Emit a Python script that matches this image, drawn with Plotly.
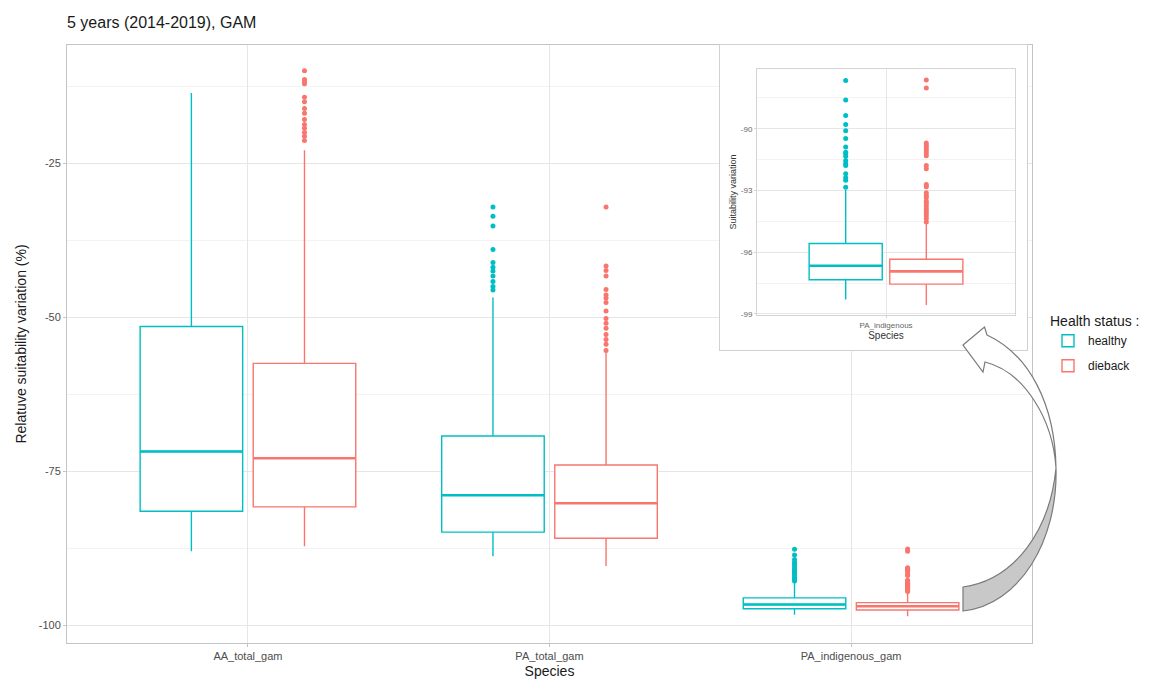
import plotly.graph_objects as go

# ---------------- data ----------------
categories = ["AA_total_gam", "PA_total_gam", "PA_indigenous_gam"]
groups = ["healthy", "dieback"]

healthy_lo = [-88.0, -88.8, -98.3]
healthy_q1 = [-81.5, -84.9, -97.34]
healthy_med = [-71.8, -78.9, -96.66]
healthy_q3 = [-51.5, -69.3, -95.58]
healthy_hi = [-13.6, -46.8, -92.95]

dieback_lo = [-87.2, -90.4, -98.56]
dieback_q1 = [-80.8, -85.9, -97.55]
dieback_med = [-72.9, -80.2, -96.93]
dieback_q3 = [-57.5, -74.0, -96.34]
dieback_hi = [-22.9, -55.8, -94.64]

healthy_out = [
    [],
    [-32.1, -33.6, -35.2, -39.0, -41.1, -41.9, -42.5, -43.3, -44.2, -45.0, -45.6],
    [-87.66, -88.6, -89.36, -89.8, -90.1, -90.48, -90.89, -91.15, -91.22, -91.34,
     -91.55, -91.69, -91.79, -92.19, -92.38, -92.5, -92.84],
]
dieback_out = [
    [-10.0, -11.4, -11.8, -12.1, -14.3, -15.0, -16.1, -16.9, -17.9, -18.7, -19.3,
     -20.0, -20.6, -21.3],
    [-32.1, -41.7, -42.4, -43.3, -45.5, -46.4, -46.9, -47.6, -49.0, -50.2, -51.0,
     -51.8, -52.8, -53.6, -54.4, -55.4],
    [-87.63, -88.02, -90.69, -90.82, -90.93, -91.05, -91.18, -91.31, -91.79, -91.95,
     -92.71, -92.82, -93.11, -93.24, -93.35, -93.52, -93.63, -93.76, -93.89, -94.0,
     -94.11, -94.24, -94.37, -94.53],
]

main_yticks = [-100, -75, -50, -25]
main_ytick_labels = ["-100", "-75", "-50", "-25"]
inset_category = "PA_indigenous"
inset_yticks = [-99, -96, -93, -90]
inset_ytick_labels = ["-99", "-96", "-93", "-90"]

# ---------------- styling ----------------
COL = {"healthy": "#00BFC4", "dieback": "#F8766D"}
DODGE = 0.1875
BOXW = 0.34
FONT = "Liberation Sans, Arial, sans-serif"

stats = {
    "healthy": dict(lo=healthy_lo, q1=healthy_q1, med=healthy_med, q3=healthy_q3,
                    hi=healthy_hi, out=healthy_out, off=-DODGE),
    "dieback": dict(lo=dieback_lo, q1=dieback_q1, med=dieback_med, q3=dieback_q3,
                    hi=dieback_hi, out=dieback_out, off=DODGE),
}

fig = go.Figure()


def add_boxes(idx, xbase, xa, ya, legend):
    for g in groups:
        s = stats[g]
        xs = [xb + s["off"] for xb in xbase]
        fig.add_trace(go.Box(
            x=xs, q1=[s["q1"][i] for i in idx], median=[s["med"][i] for i in idx],
            q3=[s["q3"][i] for i in idx], lowerfence=[s["lo"][i] for i in idx],
            upperfence=[s["hi"][i] for i in idx], width=BOXW, whiskerwidth=0,
            fillcolor="white", line=dict(color=COL[g], width=1.4), boxpoints=False,
            name=g, legendgroup=g, showlegend=legend, xaxis=xa, yaxis=ya,
            hoverinfo="skip"))
        mx, my = [], []
        for k, i in enumerate(idx):
            mx += [xs[k] - BOXW / 2, xs[k] + BOXW / 2, None]
            my += [s["med"][i], s["med"][i], None]
        fig.add_trace(go.Scatter(x=mx, y=my, mode="lines",
                                 line=dict(color=COL[g], width=2.6), legendgroup=g,
                                 showlegend=False, xaxis=xa, yaxis=ya, hoverinfo="skip"))
        ox, oy = [], []
        for k, i in enumerate(idx):
            ox += [xs[k]] * len(s["out"][i])
            oy += s["out"][i]
        fig.add_trace(go.Scatter(x=ox, y=oy, mode="markers",
                                 marker=dict(color=COL[g], size=5), legendgroup=g,
                                 showlegend=False, xaxis=xa, yaxis=ya, hoverinfo="skip"))


# main plot
add_boxes([0, 1, 2], [1, 2, 3], "x", "y", True)
# frame subplot for inset (white background box)
fig.add_trace(go.Scatter(x=[None], y=[None], xaxis="x2", yaxis="y2",
                         showlegend=False, hoverinfo="skip"))
# inset plot
add_boxes([2], [1], "x3", "y3", False)

# ---------------- layout ----------------
W, H = 1161, 684
L, R, T, B = 67, 129, 45, 41
PW, PH = W - L - R, H - T - B


def px(xp, yp):
    return (xp - L) / PW, (H - B - yp) / PH


grid = "#e6e6e6"
minor_grid = "#f3f3f3"
border = "#c4c4c4"

fig.update_layout(
    width=W, height=H,
    margin=dict(l=L, r=R, t=T, b=B, autoexpand=False),
    paper_bgcolor="white", plot_bgcolor="white",
    font=dict(family=FONT, color="#4d4d4d"),
    boxmode="overlay",
    title=dict(text="5 years (2014-2019), GAM", x=L / W, xanchor="left",
               y=1 - 22 / H, yanchor="middle", yref="container",
               font=dict(size=16, color="#1a1a1a")),
    legend=dict(title=dict(text="Health status :", font=dict(size=14, color="#1a1a1a")),
                x=px(1048, 0)[0], xanchor="left", y=px(0, 308)[1], yanchor="top",
                font=dict(size=12, color="#1a1a1a"), bgcolor="rgba(0,0,0,0)",
                tracegroupgap=6),
    xaxis=dict(range=[0.4, 3.6], tickvals=[1, 2, 3], ticktext=categories,
               showgrid=True, gridcolor=grid, zeroline=False, automargin=False,
               showline=True, mirror=True, linecolor=border,
               ticks="outside", ticklen=3, tickcolor=border,
               tickfont=dict(size=11, color="#4d4d4d"),
               title=dict(text="Species", font=dict(size=14, color="#1a1a1a"), standoff=4)),
    yaxis=dict(range=[-102.9, -5.8], tickvals=main_yticks, ticktext=main_ytick_labels,
               showgrid=True, gridcolor=grid, zeroline=False, automargin=False,
               minor=dict(tickvals=[-87.5, -62.5, -37.5, -12.5], showgrid=True,
                          gridcolor=minor_grid, ticks=""),
               showline=True, mirror=True, linecolor=border,
               ticks="outside", ticklen=3, tickcolor=border,
               tickfont=dict(size=11, color="#4d4d4d"),
               title=dict(text="Relatuve suitability variation (%)",
                          font=dict(size=14, color="#1a1a1a"), standoff=8)),
    xaxis2=dict(domain=[px(720, 0)[0], px(1027, 0)[0]], range=[0, 1], anchor="y2",
                showgrid=False, zeroline=False, showticklabels=False, ticks="",
                automargin=False,
                showline=True, mirror=True, linecolor="#d0d0d0", fixedrange=True),
    yaxis2=dict(domain=[px(0, 350)[1], 1.0], range=[0, 1], anchor="x2",
                showgrid=False, zeroline=False, showticklabels=False, ticks="",
                automargin=False,
                showline=True, mirror=True, linecolor="#d0d0d0", fixedrange=True),
    xaxis3=dict(domain=[px(757, 0)[0], px(1015, 0)[0]], range=[0.4, 1.6], anchor="y3",
                tickvals=[1], ticktext=[inset_category], automargin=False,
                showgrid=True, gridcolor=grid, zeroline=False,
                showline=True, mirror=True, linecolor="#d4d4d4",
                ticks="outside", ticklen=2, tickcolor="#d4d4d4",
                tickfont=dict(size=8, color="#666666"),
                title=dict(text="Species", font=dict(size=10, color="#333333"), standoff=2)),
    yaxis3=dict(domain=[px(0, 315)[1], px(0, 69)[1]], range=[-99.05, -87.1], anchor="x3",
                tickvals=inset_yticks, ticktext=inset_ytick_labels, automargin=False,
                showgrid=True, gridcolor=grid, zeroline=False,
                minor=dict(tickvals=[-97.5, -94.5, -91.5, -88.5], showgrid=True,
                           gridcolor=minor_grid, ticks=""),
                showline=True, mirror=True, linecolor="#d4d4d4",
                ticks="outside", ticklen=2, tickcolor="#d4d4d4",
                tickfont=dict(size=8, color="#666666"),
                title=dict(text="Suitability variation", font=dict(size=9, color="#333333"),
                           standoff=2)),
)


def P(xp, yp):
    a, b = px(xp, yp)
    return f"{a:.5f},{b:.5f}"


upper = (f"M {P(963,345)} L {P(984.5,327)} L {P(987,335)} "
         f"C {P(1030,355)} {P(1055,405)} {P(1056,468)} "
         f"C {P(1053,420)} {P(1025,372)} {P(985,362)} "
         f"L {P(983,372)} Z")
lower = (f"M {P(1056,468)} C {P(1058,540)} {P(1020,605)} {P(963,611)} "
         f"L {P(963,587)} C {P(1015,580)} {P(1050,530)} {P(1056,468)} Z")

fig.add_shape(type="path", path=upper, xref="paper", yref="paper",
              fillcolor="white", line=dict(color="#7a7a7a", width=1.2), layer="above")
fig.add_shape(type="path", path=lower, xref="paper", yref="paper",
              fillcolor="#c8c8c8", line=dict(color="#7a7a7a", width=1.2), layer="above")

fig.write_html("out.html",
               config={"displayModeBar": False, "staticPlot": True},
               post_script="document.body.style.margin='0';"
                           "document.body.style.overflow='hidden';")
